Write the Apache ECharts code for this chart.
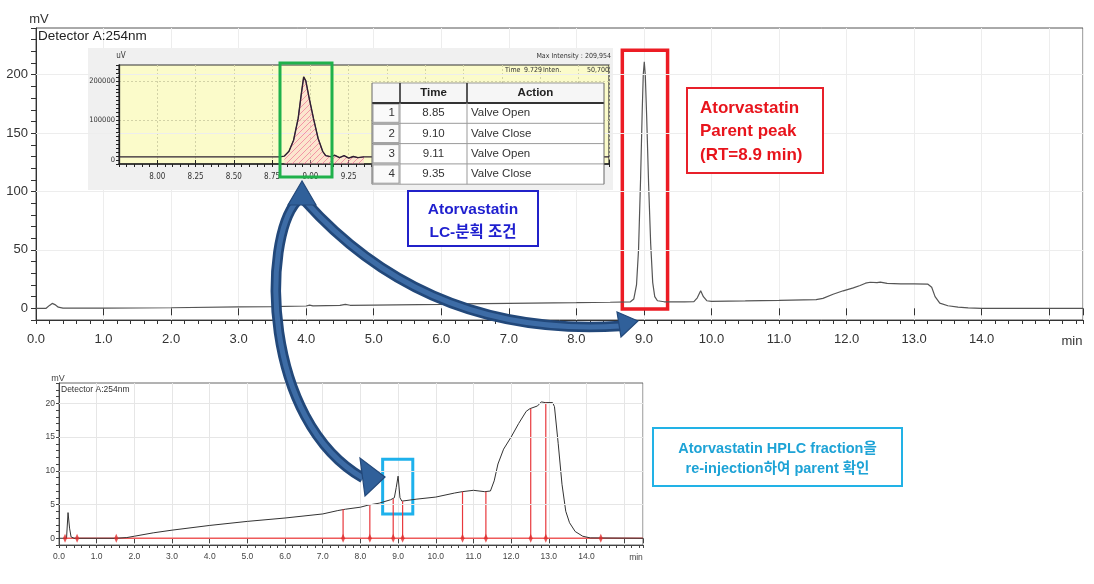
<!DOCTYPE html>
<html><head><meta charset="utf-8">
<script src="https://cdn.jsdelivr.net/npm/echarts@6/dist/echarts.min.js"></script>
<style>html,body{margin:0;padding:0;background:#fff}#c{width:1094px;height:584px}</style>
</head><body><div id="c"></div>
<script>
// ---------- DATA ----------
const mainTime   = [0,0.15,0.2,0.24,0.28,0.33,0.4,1.0,2.0,3.0,3.5,4.0,4.05,4.1,4.5,4.58,4.65,5.0,6.0,6.15,6.25,7.0,8.0,8.5,8.8,8.85,8.89,8.92,8.95,8.975,8.99,9.005,9.02,9.04,9.07,9.1,9.13,9.16,9.2,9.3,9.6,9.74,9.79,9.84,9.88,9.93,10.0,10.5,11.0,11.55,11.65,11.8,11.95,12.1,12.2,12.28,12.35,12.45,12.5,12.6,12.8,13.0,13.2,13.26,13.31,13.38,13.5,13.65,13.8,14.0,15.5];
const mainSignal = [0,0,2.5,4.2,3.2,1.0,0.2,0.2,0.5,1.2,1.5,2.0,2.8,2.1,2.5,3.4,2.6,2.8,3.4,4.5,3.8,4.2,4.8,5.2,5.6,8,20,50,110,170,200,211,200,165,105,55,22,10,6.5,5.6,5.6,5.8,9,15,10,6.5,6.0,6.3,6.8,7.5,8.5,12,15,17.5,19.5,21.5,22.3,22.0,22.5,21.3,21.0,21.0,20.8,18,10,4.5,2.2,1.0,0.3,0,0];

const insetTime   = [7.75,8.5,8.8,8.83,8.86,8.89,8.92,8.94,8.956,8.97,8.99,9.02,9.05,9.08,9.10,9.13,9.16,9.19,9.22,9.25,9.28,9.31,9.35,9.4,10.95];
const insetSignal = [8000,8000,8000,10000,22000,50000,105000,165000,209954,200000,160000,105000,55000,22000,11000,8500,12000,6000,11000,5000,9000,6000,8000,8000,8000];
const fractionWindow = [8.83, 9.35];

const reinjTime   = [0,0.2,0.24,0.28,0.32,0.4,1.5,1.8,2.0,2.5,3.0,4.0,5.0,6.0,7.0,7.4,7.6,8.0,8.2,8.5,8.8,8.9,8.95,9.0,9.05,9.1,9.5,10.0,10.5,10.7,11.0,11.3,11.45,11.55,11.65,11.8,12.0,12.2,12.4,12.5,12.7,12.8,12.9,13.1,13.15,13.25,13.35,13.45,13.55,13.7,13.9,14.1,15.5];
const reinjSignal = [0,0,3.8,1.5,0.2,0,0,0.1,0.3,0.8,1.2,1.9,2.5,3.0,3.6,4.1,4.3,4.6,4.9,5.2,5.7,6.0,7.5,9.2,6.0,5.5,5.8,6.1,6.7,6.9,7.1,6.9,7.0,8.5,11,13.2,15,17,18.8,19.2,19.6,20.2,20.1,20.1,19.5,14,8,4,2.3,1,0.3,0.05,0];

const cutTimes   = [7.54,8.25,8.87,9.12,10.71,11.33,12.52,12.92];
const cutHeights = [4.3,4.9,5.8,5.5,6.9,6.9,19.2,20.1];
const cutMarks   = [0.16,0.48,1.52,7.54,8.25,8.87,9.12,10.71,11.33,12.52,12.92,14.38];
const redBaseline = [0.12, 15.5];

const mainGridY  = [50,100,150,200];
const insetGridY = [100000,200000];
const reinjGridY = [5,10,15,20];

const valveNo     = ['1','2','3','4'];
const valveTime   = ['8.85','9.10','9.11','9.35'];
const valveAction = ['Valve Open','Valve Close','Valve Open','Valve Close'];
const tableHeader = ['', 'Time', 'Action'];

// ---------- CHART ----------
const FONT = "'Liberation Sans', Arial, 'Noto Sans CJK KR', sans-serif";
const NARROW = "'Liberation Sans Narrow','DejaVu Sans Condensed','Liberation Sans',sans-serif";
const KFONT = "'Liberation Sans','Noto Sans CJK KR',sans-serif";
const pairs = (xs, ys) => xs.map((x, i) => [x, ys[i]]);
const near = (v, step) => Math.abs(v / step - Math.round(v / step)) < 1e-6;

const hatch = document.createElement('canvas');
hatch.width = 6; hatch.height = 6;
const hc = hatch.getContext('2d');
hc.fillStyle = 'rgba(255,196,214,0.55)'; hc.fillRect(0, 0, 6, 6);
hc.strokeStyle = '#f06a98'; hc.lineWidth = 1;
hc.beginPath();
hc.moveTo(0, 6); hc.lineTo(6, 0);
hc.moveTo(-3, 3); hc.lineTo(3, -3);
hc.moveTo(3, 9); hc.lineTo(9, 3);
hc.stroke();

const fracData = pairs(insetTime, insetSignal).filter(p => p[0] >= fractionWindow[0] && p[0] <= fractionWindow[1]);

function gridLines(vals, color, type) {
  return {
    silent: true, symbol: 'none', label: {show: false},
    lineStyle: {color: color, width: 1, type: type || 'solid'},
    emphasis: {disabled: true},
    data: vals.map(v => ({yAxis: v}))
  };
}

const axisCommon = (color) => ({
  axisLine: {show: true, onZero: false, lineStyle: {color: color, width: 1}},
  axisTick: {show: true, inside: false, lineStyle: {color: color}},
  splitLine: {show: false}
});

const option = {
  animation: false,
  backgroundColor: '#fff',
  grid: [
    {left: 36, top: 28, width: 1047, height: 292, show: true, borderColor: '#555', borderWidth: 1, backgroundColor: 'transparent', z: 0},
    {left: 119, top: 65, width: 490, height: 99, show: true, borderColor: '#333', borderWidth: 1.2, backgroundColor: '#fbfbca', z: 4},
    {left: 59, top: 383, width: 584, height: 162, show: true, borderColor: '#666', borderWidth: 1, backgroundColor: 'transparent', z: 0}
  ],
  xAxis: [
    Object.assign(axisCommon('#333'), {gridIndex: 0, type: 'value', position: 'bottom', min: 0, max: 15.5, interval: 0.2,
      axisTick: {show: true, length: 4, lineStyle: {color: '#333'}}, axisLabel: {show: false}}),
    Object.assign(axisCommon('#333'), {gridIndex: 0, type: 'value', position: 'bottom', min: 0, max: 15.5, interval: 1,
      axisLine: {show: false},
      axisTick: {show: true, length: 7, lineStyle: {color: '#333'}},
      axisLabel: {show: true, fontSize: 13, color: '#333', fontFamily: FONT, margin: 13,
        formatter: v => (v > 14.5 ? '' : v.toFixed(1))},
      splitLine: {show: true, lineStyle: {color: '#ededed', width: 1}}}),
    Object.assign(axisCommon('#222'), {gridIndex: 1, type: 'value', position: 'bottom', min: 7.75, max: 10.95, interval: 0.05, z: 5,
      axisLine: {show: true, onZero: false, lineStyle: {color: '#222', width: 1.5}},
      axisTick: {show: true, length: 3, lineStyle: {color: '#222'}}, axisLabel: {show: false}}),
    Object.assign(axisCommon('#222'), {gridIndex: 1, type: 'value', position: 'bottom', min: 7.75, max: 10.95, interval: 0.25, z: 5,
      axisLine: {show: false},
      axisTick: {show: true, length: 5, lineStyle: {color: '#222'}},
      axisLabel: {show: true, fontSize: 8, color: '#333', fontFamily: NARROW, margin: 9,
        formatter: v => ((v < 7.9 || v > 9.3) ? '' : v.toFixed(2))},
      splitLine: {show: true, lineStyle: {color: '#d2d2a6', width: 1, type: [2, 2]}}}),
    Object.assign(axisCommon('#444'), {gridIndex: 2, type: 'value', position: 'bottom', min: 0, max: 15.5, interval: 0.2,
      axisTick: {show: true, length: 3, lineStyle: {color: '#444'}}, axisLabel: {show: false}}),
    Object.assign(axisCommon('#444'), {gridIndex: 2, type: 'value', position: 'bottom', min: 0, max: 15.5, interval: 1,
      axisLine: {show: false},
      axisTick: {show: true, length: 5, lineStyle: {color: '#444'}},
      axisLabel: {show: true, fontSize: 8.5, color: '#444', fontFamily: FONT, margin: 7,
        formatter: v => (v > 14.5 ? '' : v.toFixed(1))},
      splitLine: {show: true, lineStyle: {color: '#e6e6e6', width: 1}}})
  ],
  yAxis: [
    Object.assign(axisCommon('#333'), {gridIndex: 0, type: 'value', min: -10, max: 240, interval: 10,
      axisTick: {show: true, length: 5, lineStyle: {color: '#333'}},
      axisLabel: {show: true, fontSize: 13, color: '#333', fontFamily: FONT, margin: 8,
        formatter: v => (v >= 0 && near(v, 50) ? String(Math.round(v)) : '')}}),
    Object.assign(axisCommon('#222'), {gridIndex: 1, type: 'value', min: -10000, max: 240000, interval: 10000, z: 5,
      axisLine: {show: true, onZero: false, lineStyle: {color: '#222', width: 1.3}},
      axisTick: {show: true, length: 3, lineStyle: {color: '#222'}},
      axisLabel: {show: true, fontSize: 7.5, color: '#333', fontFamily: NARROW, margin: 4,
        formatter: v => (v >= 0 && near(v, 100000) ? String(Math.round(v)) : '')}}),
    Object.assign(axisCommon('#444'), {gridIndex: 2, type: 'value', min: -1, max: 23, interval: 1,
      axisTick: {show: true, length: 3, lineStyle: {color: '#444'}},
      axisLabel: {show: true, fontSize: 8.5, color: '#444', fontFamily: FONT, margin: 4,
        formatter: v => (v >= 0 && near(v, 5) ? String(Math.round(v)) : '')}})
  ],
  series: [
    {type: 'line', name: 'main', xAxisIndex: 1, yAxisIndex: 0, data: pairs(mainTime, mainSignal),
      showSymbol: false, symbol: 'none', z: 2,
      lineStyle: {color: '#555', width: 1.2},
      markLine: gridLines(mainGridY, '#ededed'),
      markArea: {silent: true, itemStyle: {color: 'rgba(0,0,0,0)', borderColor: '#ec1c24', borderWidth: 3.5},
        data: [[{xAxis: 8.68, yAxis: -0.6}, {xAxis: 9.35, yAxis: 221}]]}},
    {type: 'line', name: 'fraction', xAxisIndex: 3, yAxisIndex: 1, data: fracData,
      showSymbol: false, symbol: 'none', z: 6,
      lineStyle: {color: '#8a3a8a', width: 1},
      areaStyle: {origin: 'start', color: {image: hatch, repeat: 'repeat'}}},
    {type: 'line', name: 'inset', xAxisIndex: 3, yAxisIndex: 1, data: pairs(insetTime, insetSignal),
      showSymbol: false, symbol: 'none', z: 7,
      lineStyle: {color: '#2e2230', width: 1.4},
      markLine: gridLines(insetGridY, '#d2d2a6', [2, 2])},
    {type: 'line', name: 'reinj', xAxisIndex: 5, yAxisIndex: 2, data: pairs(reinjTime, reinjSignal),
      showSymbol: false, symbol: 'none', z: 3,
      lineStyle: {color: '#333', width: 1},
      markLine: gridLines(reinjGridY, '#e6e6e6'),
      markArea: {silent: true, itemStyle: {color: 'rgba(0,0,0,0)', borderColor: '#1eb1ec', borderWidth: 3},
        data: [[{xAxis: 8.59, yAxis: 3.6}, {xAxis: 9.39, yAxis: 11.7}]]}},
    {type: 'line', name: 'redbase', xAxisIndex: 5, yAxisIndex: 2, data: redBaseline.map(t => [t, 0]),
      showSymbol: false, symbol: 'none', z: 2,
      lineStyle: {color: '#ee5a5a', width: 1.5}},
    {type: 'custom', name: 'cuts', coordinateSystem: 'cartesian2d', xAxisIndex: 5, yAxisIndex: 2,
      data: pairs(cutTimes, cutHeights), encode: {x: 0, y: 1}, z: 4,
      renderItem: (params, api) => {
        const p0 = api.coord([api.value(0), 0]);
        const p1 = api.coord([api.value(0), api.value(1)]);
        return {type: 'line', shape: {x1: p0[0], y1: p0[1], x2: p1[0], y2: p1[1]},
          style: {stroke: '#e8383d', lineWidth: 1.2}};
      }},
    {type: 'scatter', name: 'marks', xAxisIndex: 5, yAxisIndex: 2, data: cutMarks.map(t => [t, 0]),
      symbol: 'diamond', symbolSize: [4, 9], z: 5,
      itemStyle: {color: '#e02c2c'}}
  ],
  graphic: []
};

// ---------- ANNOTATIONS ----------
const G = option.graphic;
function txt(x, y, text, font, fill, align, va, z) {
  G.push({type: 'text', x: x, y: y, z: z || 12, silent: true,
    style: {text: text, font: font, fill: fill, align: align || 'left', verticalAlign: va || 'middle'}});
}
function rect(x, y, w, h, fill, stroke, lw, z) {
  G.push({type: 'rect', z: z, silent: true, shape: {x: x, y: y, width: w, height: h},
    style: {fill: fill, stroke: stroke, lineWidth: lw || 0}});
}
function seg(x1, y1, x2, y2, stroke, lw, z) {
  G.push({type: 'line', z: z, silent: true, shape: {x1: x1, y1: y1, x2: x2, y2: y2},
    style: {stroke: stroke, lineWidth: lw}});
}

// main chart texts
txt(39, 19, 'mV', '13px ' + FONT, '#333', 'center');
txt(38, 36, 'Detector A:254nm', '13.5px ' + FONT, '#222', 'left');
txt(1072, 341, 'min', '13px ' + FONT, '#333', 'center');

// inset panel
rect(88, 48, 525, 142, '#f0f0f0', null, 0, 3);
txt(121, 56, 'uV', '8px ' + NARROW, '#333', 'center', 'middle', 7);
txt(611, 56, 'Max Intensity : 209,954', '7px ' + NARROW, '#333', 'right', 'middle', 7);
txt(505, 70, 'Time', '7px ' + NARROW, '#333', 'left', 'middle', 7);
txt(524, 70, '9.729', '7px ' + NARROW, '#333', 'left', 'middle', 7);
txt(543, 70, 'Inten.', '7px ' + NARROW, '#333', 'left', 'middle', 7);
txt(609, 70, '50,700', '7px ' + NARROW, '#333', 'right', 'middle', 7);

// table
const tX = [372, 400, 467, 604];
const tY = [83, 103, 123.3, 143.6, 163.9, 184.2];
rect(tX[0], tY[0], tX[3] - tX[0], tY[5] - tY[0], '#ffffff', null, 0, 8);
rect(tX[0], tY[0], tX[3] - tX[0], tY[1] - tY[0], '#f6f6f6', null, 0, 8);
for (let i = 1; i <= 4; i++) rect(tX[0] + 1, tY[i] + 1, tX[1] - tX[0] - 2, tY[i + 1] - tY[i] - 2, '#fafafa', '#9a9a9a', 1, 8);
tY.forEach((y, i) => seg(tX[0], y, tX[3], y, i === 1 ? '#333' : '#9a9a9a', i === 1 ? 2 : 1, 9));
tX.forEach((x, i) => seg(x, tY[0], x, tY[5], (i === 0 || i === 3) ? '#666' : '#999', 1, 9));
seg(tX[1], tY[0], tX[1], tY[1], '#333', 1.5, 9);
seg(tX[2], tY[0], tX[2], tY[1], '#333', 1.5, 9);
txt((tX[1] + tX[2]) / 2, (tY[0] + tY[1]) / 2, tableHeader[1], 'bold 11.5px ' + FONT, '#222', 'center', 'middle', 10);
txt((tX[2] + tX[3]) / 2, (tY[0] + tY[1]) / 2, tableHeader[2], 'bold 11.5px ' + FONT, '#222', 'center', 'middle', 10);
valveNo.forEach((n, i) => {
  const cy = (tY[i + 1] + tY[i + 2]) / 2;
  txt(tX[1] - 5, cy, n, '11.5px ' + FONT, '#333', 'right', 'middle', 10);
  txt((tX[1] + tX[2]) / 2, cy, valveTime[i], '11.5px ' + FONT, '#333', 'center', 'middle', 10);
  txt(tX[2] + 4, cy, valveAction[i], '11.5px ' + FONT, '#333', 'left', 'middle', 10);
});

// green box
rect(280, 63, 52, 114, null, '#1fb14b', 3, 11);

// blue text box
rect(408, 191, 130, 55, '#fff', '#2121c9', 2, 11);
txt(473, 210, 'Atorvastatin', 'bold 15.5px ' + KFONT, '#1f1fcf', 'center');
txt(473, 233, 'LC-분획 조건', 'bold 15.5px ' + KFONT, '#1f1fcf', 'center');

// red text box
rect(687, 88, 136, 85, '#fff', '#e8202a', 2, 11);
txt(700, 108, 'Atorvastatin', 'bold 17px ' + KFONT, '#e8141c', 'left');
txt(700, 131, 'Parent peak', 'bold 17px ' + KFONT, '#e8141c', 'left');
txt(700, 155, '(RT=8.9 min)', 'bold 17px ' + KFONT, '#e8141c', 'left');

// bottom chart texts
txt(58, 379, 'mV', '9px ' + FONT, '#444', 'center');
txt(61, 390, 'Detector A:254nm', '8.5px ' + FONT, '#333', 'left');
txt(636, 558, 'min', '8.5px ' + FONT, '#444', 'center');

// cyan text box
rect(653, 428, 249, 58, '#fff', '#22b2e6', 2, 11);
txt(777.5, 449, 'Atorvastatin HPLC fraction을', 'bold 14.5px ' + KFONT, '#1ea3d6', 'center');
txt(777.5, 469, 're-injection하여 parent 확인', 'bold 14.5px ' + KFONT, '#1ea3d6', 'center');

// arrows
const ARW_D = '#22487a', ARW_L = '#3d6ca6';
function curve(shape) {
  G.push({type: 'bezierCurve', z: 13, silent: true, shape: shape, style: {fill: null, stroke: ARW_D, lineWidth: 10.5, lineCap: 'butt'}});
  G.push({type: 'bezierCurve', z: 14, silent: true, shape: shape, style: {fill: null, stroke: ARW_L, lineWidth: 5, lineCap: 'butt'}});
}
function head(pts) {
  G.push({type: 'polygon', z: 15, silent: true, shape: {points: pts}, style: {fill: '#30609a', stroke: ARW_D, lineWidth: 1.2}});
}
curve({x1: 305, y1: 201, cpx1: 428, cpy1: 338, x2: 620, y2: 326});
curve({x1: 297, y1: 201, cpx1: 262, cpy1: 240, cpx2: 262, cpy2: 420, x2: 363, y2: 478});
head([[302, 181], [288, 205], [316, 205]]);
head([[638, 321], [617, 312], [621, 337]]);
head([[385, 477], [360, 458], [365, 496]]);

const chart = echarts.init(document.getElementById('c'), null, {renderer: 'canvas'});
chart.setOption(option);
</script>
</body></html>
